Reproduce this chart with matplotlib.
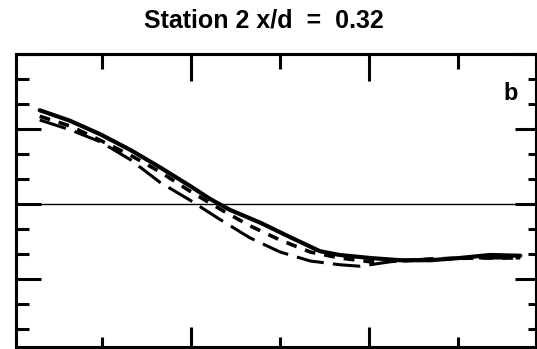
import matplotlib
matplotlib.use("Agg")
import matplotlib.pyplot as plt
from matplotlib.ticker import MultipleLocator, NullFormatter

# Data
x_solid = [0.30, 0.64, 0.98, 1.32, 1.65, 1.99, 2.21, 2.44, 2.78, 3.11, 3.45, 3.67, 4.01, 4.35, 4.69, 5.02, 5.36, 5.70]
y_solid = [1.25, 1.11, 0.93, 0.72, 0.49, 0.24, 0.07, -0.08, -0.25, -0.44, -0.63, -0.68, -0.72, -0.75, -0.75, -0.72, -0.68, -0.69]

x_short = [0.30, 0.64, 0.98, 1.32, 1.65, 1.99, 2.33, 2.66, 3.00, 3.34, 3.67, 4.01, 4.35, 4.80, 5.25, 5.70]
y_short = [1.17, 1.04, 0.85, 0.65, 0.43, 0.17, -0.07, -0.29, -0.48, -0.64, -0.72, -0.77, -0.76, -0.73, -0.72, -0.72]

x_long = [0.30, 0.64, 0.98, 1.32, 1.65, 1.99, 2.33, 2.66, 3.00, 3.34, 3.67, 3.90, 4.24, 4.69, 5.25, 5.70]
y_long = [1.12, 0.99, 0.83, 0.59, 0.29, 0.05, -0.21, -0.45, -0.64, -0.76, -0.81, -0.83, -0.77, -0.73, -0.72, -0.72]

title = "Station 2 x/d  =  0.32"
panel = "b"

fig = plt.figure(figsize=(5.37, 3.49), dpi=100)
ax = fig.add_axes([16/537, 2/349, 520/537, 293/349])

ax.plot(x_solid, y_solid, color="black", lw=3.0, solid_capstyle="round",
        solid_joinstyle="round", zorder=4)
ax.plot(x_short, y_short, color="black", lw=2.6, dashes=(3, 2.5), zorder=3)
ax.plot(x_long, y_long, color="black", lw=2.2, dashes=(9, 3), zorder=3)
ax.axhline(0, color="black", lw=1.0, zorder=2)

ax.set_xlim((16 - 13) / 89, (536 - 13) / 89)
ax.set_ylim(-1.907, 2.0)

for s in ax.spines.values():
    s.set_linewidth(2.2)

ax.xaxis.set_major_locator(MultipleLocator(2))
ax.xaxis.set_minor_locator(MultipleLocator(1))
ax.yaxis.set_major_locator(MultipleLocator(1))
ax.yaxis.set_minor_locator(MultipleLocator(1/3))
ax.xaxis.set_major_formatter(NullFormatter())
ax.yaxis.set_major_formatter(NullFormatter())
ax.tick_params(axis="x", which="major", direction="in", length=14.5, width=2.2, bottom=True, top=False)
ax.tick_params(axis="x", which="minor", direction="in", length=7, width=2.2, bottom=True, top=False)
ax.tick_params(axis="y", which="major", direction="in", length=18, width=2.2, left=True, right=False)
ax.tick_params(axis="y", which="minor", direction="in", length=9.4, width=2.2, left=True, right=False)

secx = ax.secondary_xaxis("top")
secx.xaxis.set_major_locator(MultipleLocator(2))
secx.xaxis.set_minor_locator(MultipleLocator(1))
secx.xaxis.set_major_formatter(NullFormatter())
secx.tick_params(axis="x", which="major", direction="in", length=19.5, width=2.2)
secx.tick_params(axis="x", which="minor", direction="in", length=11, width=2.2)
secx.spines["top"].set_linewidth(2.2)

secy = ax.secondary_yaxis("right")
secy.yaxis.set_major_locator(MultipleLocator(1))
secy.yaxis.set_minor_locator(MultipleLocator(1/3))
secy.yaxis.set_major_formatter(NullFormatter())
secy.tick_params(axis="y", which="major", direction="in", length=15, width=2.2)
secy.tick_params(axis="y", which="minor", direction="in", length=6, width=2.2)
secy.spines["right"].set_linewidth(2.2)

fig.text(264/537, 1 - 21/349, title, ha="center", va="center",
         fontsize=18, fontweight="bold", family=["Liberation Sans", "DejaVu Sans"])
ax.text((511 - 13) / 89, (204 - 94) / 75, panel, ha="center", va="center",
        fontsize=17, fontweight="bold", family=["Liberation Sans", "DejaVu Sans"])

fig.savefig("out.png", dpi=100)
